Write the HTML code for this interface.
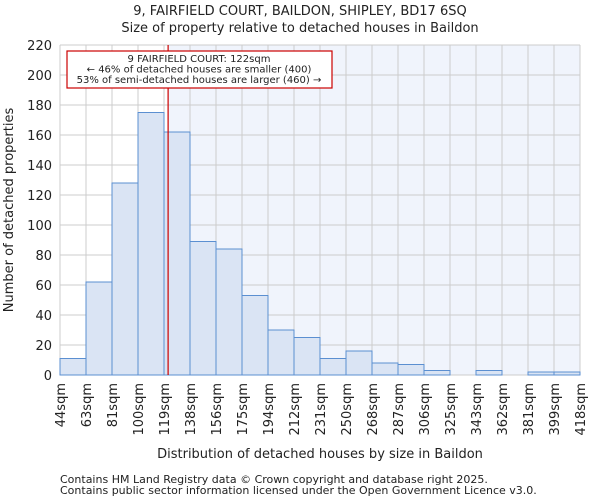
<!DOCTYPE html>
<html><head><meta charset="utf-8"><style>
body{margin:0;background:#fff;font-family:"DejaVu Sans","Liberation Sans",sans-serif}
svg text{font-family:"DejaVu Sans","Liberation Sans",sans-serif;fill:#222}
</style></head><body>
<svg id="chart" width="600" height="500" xmlns="http://www.w3.org/2000/svg">
<text x="300" y="15" text-anchor="middle" font-size="13">9, FAIRFIELD COURT, BAILDON, SHIPLEY, BD17 6SQ</text>
<text x="300" y="32" text-anchor="middle" font-size="13">Size of property relative to detached houses in Baildon</text>
<g id="plot"></g>
<text x="320" y="458" text-anchor="middle" font-size="13">Distribution of detached houses by size in Baildon</text>
<text transform="translate(13,210) rotate(-90)" text-anchor="middle" font-size="13">Number of detached properties</text>
<text x="60" y="483" font-size="11" fill="#444">Contains HM Land Registry data © Crown copyright and database right 2025.</text>
<text x="60" y="494" font-size="11" fill="#444">Contains public sector information licensed under the Open Government Licence v3.0.</text>
</svg>
<script>
const binLabels=["44sqm","63sqm","81sqm","100sqm","119sqm","138sqm","156sqm","175sqm","194sqm","212sqm","231sqm","250sqm","268sqm","287sqm","306sqm","325sqm","343sqm","362sqm","381sqm","399sqm","418sqm"];
const binEdges=[44,63,81,100,119,138,156,175,194,212,231,250,268,287,306,325,343,362,381,399,418];
const counts=[11,62,128,175,162,89,84,53,30,25,11,16,8,7,3,0,3,0,2,2];
const yTicks=[0,20,40,60,80,100,120,140,160,180,200,220];
const propertySize=122;
const X0=60,X1=580,Y0=375,Y1=45,YMAX=220;
const nb=counts.length,bw=(X1-X0)/nb;
const xi=i=>X0+i*bw;
const xv=v=>{let i=0;while(i<nb-1&&v>binEdges[i+1])i++;return xi(i)+(v-binEdges[i])/(binEdges[i+1]-binEdges[i])*bw;};
const y=v=>Y0-(v/YMAX)*(Y0-Y1);
const NS="http://www.w3.org/2000/svg";
const g=document.getElementById('plot');
function mk(t,a){const e=document.createElementNS(NS,t);for(const k in a)e.setAttribute(k,a[k]);g.appendChild(e);return e;}
const px=xv(propertySize);
let e=mk('rect',{x:px,y:Y1,width:X1-px,height:Y0-Y1,fill:'#f0f4fc'});


binEdges.forEach((b,i)=>{const l=mk('line',{x1:xi(i),x2:xi(i),y1:Y1,y2:Y0,stroke:'#ccc'});

});
yTicks.forEach(t=>{const l=mk('line',{x1:X0,x2:X1,y1:y(t),y2:y(t),stroke:'#ccc'});


const tx=mk('text',{x:X0-8,y:y(t)+5,'text-anchor':'end','font-size':13});tx.textContent=t;

});
counts.forEach((c,i)=>{if(c<=0)return;const r=mk('rect',{x:xi(i),y:y(c),width:bw,height:Y0-y(c),fill:'#dae4f4',stroke:'#5b8fd1','stroke-width':1});

});
binLabels.forEach((s,i)=>{const tx=mk('text',{transform:`translate(${xi(i)+5},383) rotate(-90)`,'text-anchor':'end','font-size':13});tx.textContent=s;

});
e=mk('line',{x1:px,x2:px,y1:Y1,y2:Y0,stroke:'#c00','stroke-width':1.2});


e=mk('rect',{x:67,y:51,width:265,height:37,fill:'#fff',stroke:'#c00','stroke-width':1.2});


["9 FAIRFIELD COURT: 122sqm","← 46% of detached houses are smaller (400)","53% of semi-detached houses are larger (460) →"].forEach((s,i)=>{const tx=mk('text',{x:199,y:62+i*10.5,'text-anchor':'middle','font-size':10});tx.textContent=s;

});
</script>
</body></html>
